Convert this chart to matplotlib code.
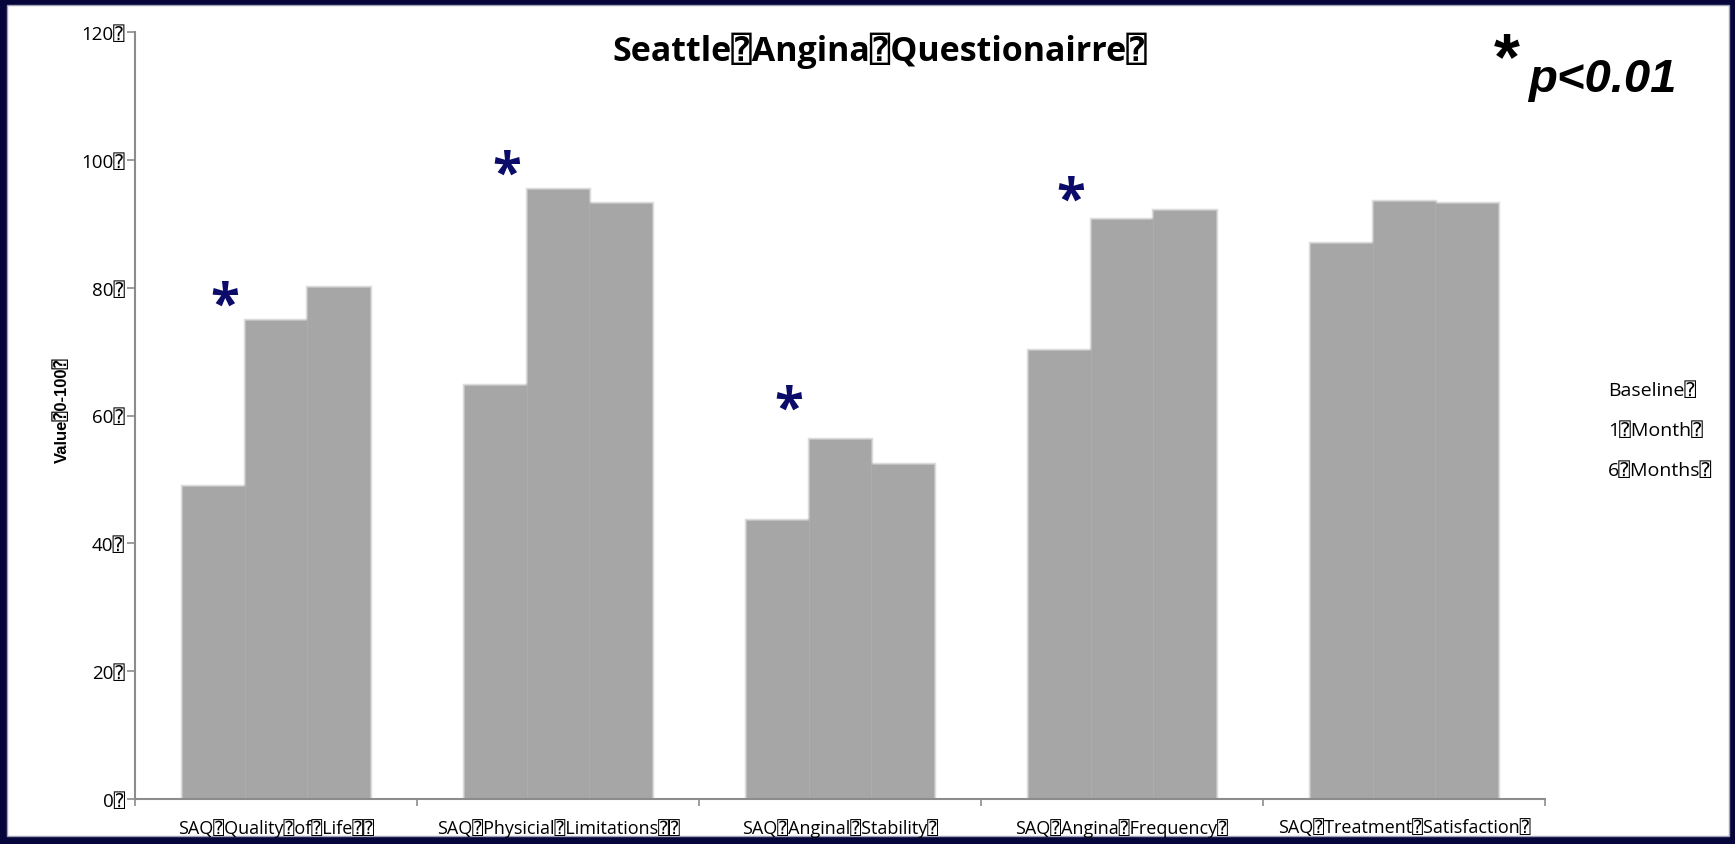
import matplotlib
matplotlib.use('Agg')
import matplotlib.pyplot as plt
from matplotlib.patches import Rectangle
import numpy as np

# the deck renders its spaces as missing-glyph boxes
BOX = '\u2370'

categories = ['SAQ Quality of Life  ', 'SAQ Physicial Limitations  ',
              'SAQ Anginal Stability ', 'SAQ Angina Frequency ',
              'SAQ Treatment Satisfaction ']
series = ['Baseline ', '1 Month ', '6 Months ']
baseline = [48.9, 64.7, 43.7, 70.2, 87.0]
one_month = [74.9, 95.4, 56.4, 90.7, 93.5]
six_months = [80.1, 93.3, 52.4, 92.1, 93.3]
yticks = [0, 20, 40, 60, 80, 100, 120]

# significant groups (p<0.01) and where their asterisks sit
star_groups = [0, 1, 2, 3]
star_y = [79.5, 100.0, 63.3, 96.0]

title = 'Seattle Angina Questionairre '
ylabel = 'Value 0-100 '


def boxed(s):
    return s.replace(' ', BOX)


plt.rcParams['font.family'] = ['Open Sans', 'DejaVu Sans', 'DejaVu Sans Mono']

W, H = 1735, 845
fig = plt.figure(figsize=(W / 100, H / 100), dpi=100)
fig.patch.set_facecolor('#06063a')
fig.patches.append(Rectangle((7 / W, 8 / H), (1729 - 7) / W, (839 - 8) / H,
                             transform=fig.transFigure, facecolor='white',
                             edgecolor='#a0a0b8', linewidth=1, zorder=-5))

ax = fig.add_axes([135 / W, 1 - 800 / H, (1545 - 135) / W, (800 - 33) / H])
ax.set_facecolor('none')
ax.set_zorder(2)

x = np.arange(len(categories))
width = 0.222
bar_color = '#a6a6a6'
data = [baseline, one_month, six_months]
handles = []
for k, vals in enumerate(data):
    # translucent edge gives the soft, slightly fuzzy bar outline
    b = ax.bar(x + (k - 1) * width, vals, width, color=bar_color,
               edgecolor=(0.65, 0.65, 0.65, 0.4), linewidth=2.5,
               label=boxed(series[k]))
    handles.append(b)

for g, yv in zip(star_groups, star_y):
    ax.annotate('*', (g - 0.18, yv), xytext=(0, -0.57 * 38),
                textcoords='offset points', ha='center', va='baseline',
                fontsize=38, fontweight='bold', color='#0b0b6a')

ax.set_xlim(-0.5, 4.5)
ax.set_ylim(0, 120)
ax.set_yticks(yticks)
ax.set_yticklabels([boxed(f'{t} ') for t in yticks], fontsize=13.5)
ax.set_xticks(x)
ax.set_xticklabels([boxed(c) for c in categories], fontsize=13)
ax.set_xticks(np.arange(-0.5, 5.0, 1.0), minor=True)

for side in ['top', 'right']:
    ax.spines[side].set_visible(False)
for side in ['left', 'bottom']:
    ax.spines[side].set_color('#8c8c8c')
    ax.spines[side].set_linewidth(1.5)
ax.tick_params(axis='y', direction='out', length=6, width=1.2,
               color='#8c8c8c', pad=1.5)
ax.tick_params(axis='x', which='major', length=0, pad=14)
ax.tick_params(axis='x', which='minor', direction='out', length=5,
               width=1.2, color='#8c8c8c')

ax.text(-0.052, 0.508, boxed(ylabel), transform=ax.transAxes, rotation=90,
        ha='center', va='center', fontsize=12, fontweight='bold',
        family=['Liberation Sans', 'DejaVu Sans', 'DejaVu Sans Mono'])

fig.text(880 / W, 1 - 51 / H, boxed(title), ha='center', va='center',
         fontsize=24.5, fontweight='bold')

fig.text(1507 / W, 1 - 79 / H, '*', ha='center', va='baseline',
         fontsize=48, fontweight='bold', family='Liberation Sans')
fig.text(1528 / W, 1 - 92 / H, 'p<0.01', ha='left', va='baseline',
         fontsize=34, fontweight='bold', fontstyle='italic',
         family='Liberation Sans')

# legend shows only the series names, no colour keys
leg = ax.legend(handles=handles, handlelength=0, handletextpad=0,
                frameon=False, loc='center left',
                bbox_to_anchor=(1608 / W, 1 - 431 / H),
                bbox_transform=fig.transFigure, borderpad=0, borderaxespad=0,
                labelspacing=1.15, fontsize=14)
for h in leg.legend_handles:
    h.set_visible(False)

fig.savefig('out.png', dpi=100, facecolor=fig.get_facecolor())
